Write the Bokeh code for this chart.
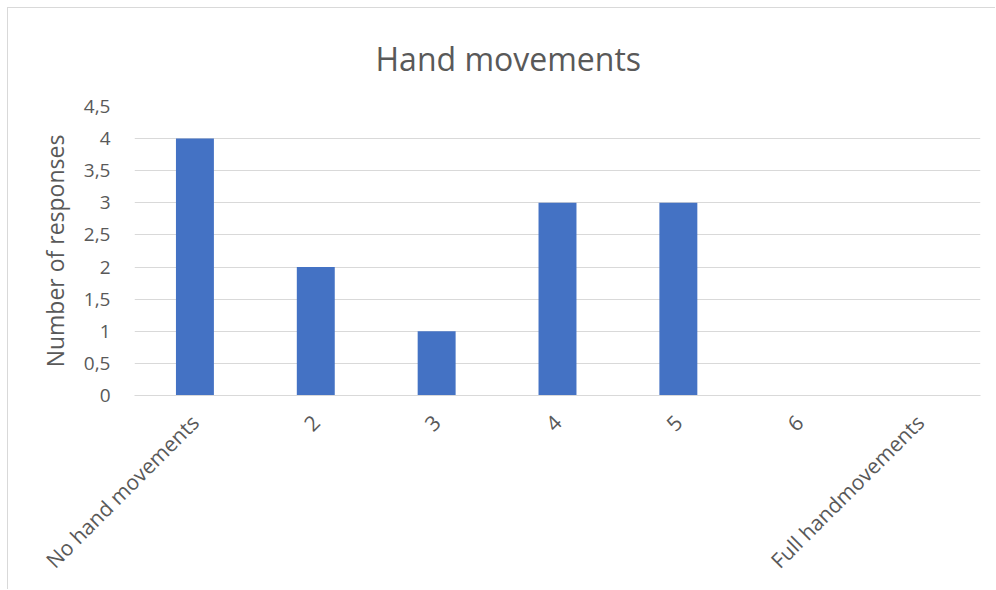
from bokeh.plotting import figure
from bokeh.models import FixedTicker, CustomJSTickFormatter, ColumnDataSource
from bokeh.embed import file_html
from bokeh.resources import INLINE
import math

# Survey results: number of responses per rating on the hand-movement scale
categories = ["No hand movements", "2", "3", "4", "5", "6", "Full handmovements"]
responses = [4, 2, 1, 3, 3, 0, 0]
y_ticks = [0, 0.5, 1, 1.5, 2, 2.5, 3, 3.5, 4, 4.5]
chart_title = "Hand movements"

TEXT = "#595959"
GRID = "#d9d9d9"
FONT = "Open Sans"

source = ColumnDataSource(data=dict(cat=categories, n=responses))

p = figure(
    x_range=categories, y_range=(0, 4.5),
    width=988, height=582,
    output_backend="svg", toolbar_location=None, tools="",
    min_border_left=126, min_border_right=16,
    min_border_top=98, min_border_bottom=195,
    title=chart_title,
)
p.styles = {"margin-left": "7px", "margin-top": "7px",
            "border-top": "1px solid #d9d9d9", "border-left": "1px solid #d9d9d9"}
p.outline_line_color = None

p.title.text_font = FONT
p.title.text_font_size = "32px"
p.title.text_font_style = "normal"
p.title.text_color = TEXT
p.title.align = "left"
p.title.offset = 241
p.title.standoff = 53

p.vbar(x="cat", top="n", width=0.314, source=source, fill_color="#4472C4", line_color=None)

# y axis
p.yaxis.ticker = FixedTicker(ticks=y_ticks)
p.yaxis.formatter = CustomJSTickFormatter(code="return tick.toString().replace('.', ',');")
p.yaxis.axis_line_color = None
p.yaxis.major_tick_line_color = None
p.yaxis.minor_tick_line_color = None
p.yaxis.major_label_text_font = FONT
p.yaxis.major_label_text_font_size = "19px"
p.yaxis.major_label_text_color = TEXT
p.yaxis.major_label_standoff = 18
p.yaxis.axis_label = "Number of responses"
p.yaxis.axis_label_text_font = FONT
p.yaxis.axis_label_text_font_size = "23px"
p.yaxis.axis_label_text_font_style = "normal"
p.yaxis.axis_label_text_color = TEXT
p.yaxis.axis_label_standoff = 10

# x axis
p.xaxis.axis_line_color = GRID
p.xaxis.axis_line_width = 1
p.xaxis.major_tick_line_color = None
p.xaxis.minor_tick_line_color = None
p.xaxis.major_label_orientation = math.pi / 4
p.xaxis.major_label_text_font = FONT
p.xaxis.major_label_text_font_size = "21px"
p.xaxis.major_label_text_color = TEXT
p.xaxis.major_label_standoff = 17

p.xgrid.grid_line_color = None
p.ygrid.grid_line_color = GRID
p.ygrid.grid_line_width = 1

open("out.html", "w").write(file_html(p, INLINE))
